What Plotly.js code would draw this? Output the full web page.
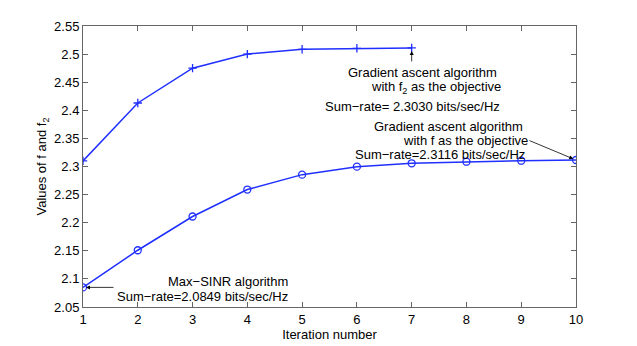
<!DOCTYPE html>
<html>
<head>
<meta charset="utf-8">
<script src="https://cdn.plot.ly/plotly-3.0.1.min.js"></script>
<style>
  body { margin: 0; background: #fff; }
  #graph { width: 637px; height: 346px; }
</style>
</head>
<body>
<div id="graph"></div>
<script>
// iterations and objective values
var iterF2 = [1, 2, 3, 4, 5, 6, 7];
var valF2 = [2.310, 2.413, 2.475, 2.500, 2.5085, 2.5103, 2.511];

var iterF = [1, 2, 3, 4, 5, 6, 7, 8, 9, 10];
var valF = [2.0849, 2.151, 2.211, 2.259, 2.2855, 2.2997, 2.3057, 2.3085, 2.3103, 2.3116];

var yTicks = [2.05, 2.1, 2.15, 2.2, 2.25, 2.3, 2.35, 2.4, 2.45, 2.5, 2.55];
var yTickText = ['2.05', '2.1', '2.15', '2.2', '2.25', '2.3', '2.35', '2.4', '2.45', '2.5', '2.55'];

var FONT = 'Liberation Sans, Arial, sans-serif';

// pixel -> data helpers for placing the text notes
function px2x(p) { return 1 + (p - 83) / (493 / 9); }
function py2y(p) { return 2.55 - (p - 26) / (281 / 0.5); }

function note(left, cy, txt) {
    return {
        x: px2x(left), y: py2y(cy), xref: 'x', yref: 'y',
        text: txt, showarrow: false, xanchor: 'left', yanchor: 'middle',
        font: {family: FONT, size: 13, color: '#000'}
    };
}

function arrow(x, y, ax, ay) {
    return {
        x: x, y: y, xref: 'x', yref: 'y', text: '', showarrow: true,
        ax: ax, ay: ay, arrowhead: 2, arrowsize: 1, arrowwidth: 0.8,
        arrowcolor: '#000', standoff: 3
    };
}

var traceF2 = {
    type: 'scatter', mode: 'lines+markers',
    x: iterF2, y: valF2,
    line: {color: '#1f2fff', width: 1.5},
    marker: {symbol: 'cross-thin-open', size: 6, color: '#1f2fff', line: {color: '#1f2fff', width: 1.3}}
};

var traceF = {
    type: 'scatter', mode: 'lines+markers',
    x: iterF, y: valF,
    line: {color: '#1f2fff', width: 1.5},
    marker: {symbol: 'circle-open', size: 7, color: '#1f2fff', line: {color: '#1f2fff', width: 1.3}}
};

var axisCommon = {
    showgrid: false, zeroline: false,
    showline: true, linecolor: '#666', linewidth: 1, mirror: 'ticks',
    ticks: 'inside', ticklen: 5, tickcolor: '#666', tickwidth: 1,
    tickfont: {family: FONT, size: 13, color: '#000'}
};

var layout = {
    width: 637, height: 346,
    margin: {l: 83, r: 61, t: 26, b: 39},
    paper_bgcolor: '#fff', plot_bgcolor: '#fff',
    showlegend: false,
    font: {family: FONT, size: 13, color: '#000'},
    xaxis: Object.assign({}, axisCommon, {
        range: [1, 10], tickmode: 'array', tickvals: iterF,
        title: {text: 'Iteration number', font: {family: FONT, size: 13}, standoff: 0}
    }),
    yaxis: Object.assign({}, axisCommon, {
        range: [2.05, 2.55], tickmode: 'array', tickvals: yTicks, ticktext: yTickText,
        title: {text: 'Values of f and f<sub>2</sub>', font: {family: FONT, size: 13}, standoff: 4}
    }),
    annotations: [
        note(346, 72, 'Gradient ascent algorithm'),
        note(369, 87, 'with f<sub>2</sub> as the objective'),
        note(323, 106, 'Sum\u2212rate= 2.3030 bits/sec/Hz'),
        note(372, 126, 'Gradient ascent algorithm'),
        note(401, 140, 'with f as the objective'),
        note(353, 154, 'Sum\u2212rate=2.3116 bits/sec/Hz'),
        note(166, 281, 'Max\u2212SINR algorithm'),
        note(115, 296, 'Sum\u2212rate=2.0849 bits/sec/Hz'),
        arrow(7, valF2[6], 0, 15),
        arrow(10, valF[9], -48, -20),
        arrow(1, valF[0], 32, 0)
    ]
};

Plotly.newPlot(document.getElementById('graph'), [traceF2, traceF], layout, {displayModeBar: false, staticPlot: true});
</script>
</body>
</html>
